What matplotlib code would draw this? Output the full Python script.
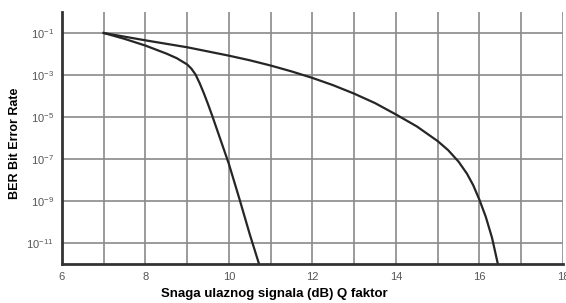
import numpy as np
import matplotlib.pyplot as plt

# Data (x in dB / Q factor, y as log10 of BER)
x_a = [7.0, 7.5, 8.0, 8.5, 8.75, 9.0, 9.1, 9.2, 9.3, 9.4, 9.5, 9.6, 9.8, 10.0, 10.25, 10.5, 10.72]
logber_a = [-1.0, -1.28, -1.6, -1.98, -2.2, -2.5, -2.7, -2.98, -3.4, -3.88, -4.4, -4.95,
            -6.1, -7.25, -8.9, -10.6, -12.0]

x_b = [7.0, 8.0, 9.0, 10.0, 10.5, 11.0, 11.5, 12.0, 12.5, 13.0, 13.5, 14.0, 14.5, 15.0, 15.25, 15.5,
       15.7, 15.85, 16.0, 16.15, 16.3, 16.44]
logber_b = [-1.0, -1.35, -1.68, -2.08, -2.3, -2.55, -2.83, -3.14, -3.49, -3.89, -4.34, -4.88, -5.45,
            -6.15, -6.58, -7.13, -7.7, -8.25, -8.95, -9.75, -10.75, -12.0]

x_ticks = [6, 8, 10, 12, 14, 16, 18]
y_exps = [-1, -3, -5, -7, -9, -11]

plt.rcParams['font.family'] = ['Liberation Sans', 'DejaVu Sans']
plt.rcParams['mathtext.fontset'] = 'custom'
plt.rcParams['mathtext.rm'] = 'Liberation Sans'
plt.rcParams['mathtext.it'] = 'Liberation Sans'
plt.rcParams['axes.unicode_minus'] = False

fig = plt.figure(figsize=(5.66, 3.03), dpi=100)
ax = fig.add_axes([0.1095, 0.1287, 0.8852, 0.8317])

ax.set_yscale('log')
ax.set_xlim(6, 18)
ax.set_ylim(1e-12, 1)

# grid: every integer vertically, odd decades horizontally
for xv in range(7, 19):
    ax.axvline(xv, color='#8a8a8a', lw=1.2, zorder=1)
for e in y_exps:
    ax.axhline(10.0 ** e, color='#8a8a8a', lw=1.2, zorder=1)

ax.plot(x_a, 10.0 ** np.array(logber_a), color='#262626', lw=1.6, zorder=3)
ax.plot(x_b, 10.0 ** np.array(logber_b), color='#262626', lw=1.6, zorder=3)

ax.set_xticks(x_ticks)
ax.set_xticklabels([str(t) for t in x_ticks], color='#555555', fontsize=8)
ax.set_yticks([10.0 ** e for e in y_exps])
ax.set_yticklabels([r'$10^{%d}$' % e for e in y_exps], color='#555555', fontsize=8)
ax.yaxis.set_minor_locator(plt.NullLocator())
ax.tick_params(length=0, pad=6)

for s in ['top', 'right']:
    ax.spines[s].set_visible(False)
for s in ['left', 'bottom']:
    ax.spines[s].set_color('#333333')
    ax.spines[s].set_linewidth(2)
    ax.spines[s].set_zorder(4)

fig.text(274 / 566, 1 - 294 / 303, 'Snaga ulaznog signala (dB) Q faktor', fontsize=9.5,
         fontweight='bold', ha='center', va='center')
fig.text(15 / 566, 1 - 143 / 303, 'BER Bit Error Rate', fontsize=9, fontweight='bold',
         rotation=90, ha='center', va='center')

fig.savefig('out.png', dpi=100)
